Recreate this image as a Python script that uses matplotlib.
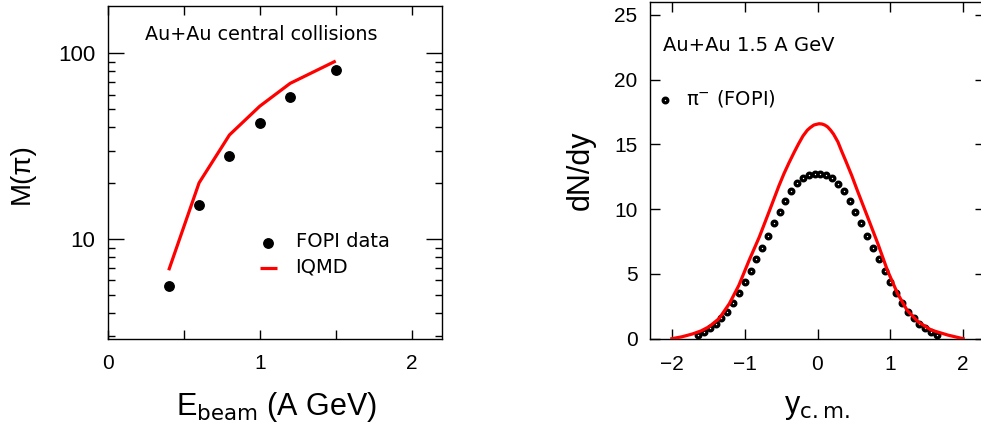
import matplotlib
matplotlib.use("Agg")
import matplotlib.pyplot as plt
from matplotlib import font_manager
from matplotlib.ticker import FixedLocator, NullFormatter, FuncFormatter

# ---------------- data ----------------
energies = [0.4, 0.6, 0.8, 1.0, 1.2, 1.5]
fopi_mult = [5.6, 15.2, 28.2, 42.0, 58.0, 81.0]
iqmd_mult = [6.8, 20.1, 36.4, 52.0, 69.0, 91.0]

rap_data_x = [-1.64, -1.56, -1.48, -1.40, -1.32, -1.24, -1.16, -1.08, -1.00, -0.92,
              -0.84, -0.76, -0.68, -0.60, -0.52, -0.44, -0.36, -0.28, -0.20, -0.12,
              -0.04, 0.04, 0.12, 0.20, 0.28, 0.36, 0.44, 0.52, 0.60, 0.68, 0.76,
              0.84, 0.92, 1.00, 1.08, 1.16, 1.24, 1.32, 1.40, 1.48, 1.56, 1.64]
rap_data_y = [0.30, 0.54, 0.80, 1.13, 1.56, 2.07, 2.77, 3.54, 4.37, 5.25,
              6.12, 7.02, 7.94, 8.91, 9.81, 10.65, 11.41, 12.02, 12.44, 12.65,
              12.75, 12.75, 12.65, 12.44, 11.98, 11.42, 10.65, 9.81, 8.91, 7.94, 7.02,
              6.12, 5.22, 4.35, 3.53, 2.77, 2.07, 1.57, 1.13, 0.80, 0.54, 0.32]

rap_iqmd_x = [-2.0, -1.86, -1.72, -1.60, -1.49, -1.35, -1.21, -1.08, -0.94, -0.80,
              -0.66, -0.53, -0.46, -0.39, -0.32, -0.26, -0.20, -0.14, -0.10, -0.05,
              0.02, 0.06, 0.10, 0.14, 0.18, 0.22, 0.28, 0.33, 0.39, 0.47, 0.55,
              0.69, 0.83, 0.96, 1.10, 1.23, 1.38, 1.56, 1.79, 2.0]
rap_iqmd_y = [0.0, 0.15, 0.36, 0.60, 0.92, 1.56, 2.71, 4.12, 6.04, 7.84,
              9.88, 11.8, 12.75, 13.6, 14.4, 15.05, 15.65, 16.1, 16.3, 16.5,
              16.6, 16.58, 16.5, 16.35, 16.1, 15.8, 15.2, 14.5, 13.7, 12.6, 11.4,
              9.37, 7.32, 5.28, 3.48, 2.2, 1.31, 0.67, 0.28, 0.0]

left_xticks = [0, 1, 2]
left_yticks = [10, 100]
right_xticks = [-2, -1, 0, 1, 2]
right_yticks = [0, 5, 10, 15, 20, 25]

# ---------------- fonts ----------------
_names = {f.name for f in font_manager.fontManager.ttflist}
TICKFONT = "Liberation Sans" if "Liberation Sans" in _names else "DejaVu Sans"
HAS_NARROW = "Liberation Sans Narrow" in _names
NARROW = "Liberation Sans Narrow" if HAS_NARROW else TICKFONT
ANNOT = "DejaVu Sans"

# ---------------- figure ----------------
W, H = 981, 430
fig = plt.figure(figsize=(W / 100, H / 100), dpi=100)

# ---- left panel ----
ax1 = fig.add_axes([108 / W, 1 - 339 / H, 334 / W, 333 / H])
ax1.set_yscale("log")
ax1.plot(energies, iqmd_mult, color="#ff0000", lw=2.3, zorder=3, solid_capstyle="butt")
ax1.plot(energies, fopi_mult, "o", color="black", ms=6.8, zorder=2)
ax1.set_xlim(0, 2.2)
ax1.set_ylim(2.9, 180)

ax1.xaxis.set_major_locator(FixedLocator(left_xticks))
ax1.xaxis.set_minor_locator(FixedLocator([0.5, 1.5]))
ax1.yaxis.set_major_locator(FixedLocator(left_yticks))
ax1.yaxis.set_minor_locator(FixedLocator([3, 4, 5, 6, 7, 8, 9, 20, 30, 40, 50, 60, 70, 80, 90]))
ax1.yaxis.set_minor_formatter(NullFormatter())
ax1.xaxis.set_minor_formatter(NullFormatter())
ax1.yaxis.set_major_formatter(FuncFormatter(lambda v, p: "%d" % v))
ax1.xaxis.set_major_formatter(FuncFormatter(lambda v, p: "%d" % v))
ax1.tick_params(axis="x", which="both", direction="in", top=True, bottom=True,
                length=6.8, width=1.0, pad=11, labelsize=15, labelfontfamily=TICKFONT)
ax1.tick_params(axis="y", which="major", direction="in", left=True, right=True,
                length=11.3, width=1.0, pad=9,
                labelsize=(18.5 if HAS_NARROW else 16), labelfontfamily=NARROW)
ax1.tick_params(axis="y", which="minor", direction="in", left=True, right=True,
                length=5.0, width=1.0)

ax1.set_ylabel("M(π)", fontsize=(23 if HAS_NARROW else 20), family=NARROW,
               va="center")
ax1.yaxis.set_label_coords(-0.257, 0.498)
ax1.set_xlabel(r"E$_{\mathrm{beam}}$ (A GeV)", fontsize=22, family=TICKFONT)
ax1.xaxis.set_label_coords(0.503, -0.228)
ax1.xaxis.label.set_verticalalignment("baseline")

ax1.text(0.111, 0.898, "Au+Au central collisions", transform=ax1.transAxes,
         fontsize=13.8, family=ANNOT, ha="left", va="baseline")
# legend
ax1.plot([0.48], [0.287], "o", color="black", ms=6.8, transform=ax1.transAxes, clip_on=False)
ax1.text(0.563, 0.292, "FOPI data", transform=ax1.transAxes, fontsize=14,
         family=ANNOT, ha="left", va="center")
ax1.plot([0.455, 0.505], [0.214, 0.214], color="#ff0000", lw=2.3,
         transform=ax1.transAxes, solid_capstyle="butt")
ax1.text(0.56, 0.216, "IQMD", transform=ax1.transAxes, fontsize=14,
         family=ANNOT, ha="left", va="center")

# ---- right panel ----
ax2 = fig.add_axes([650 / W, 1 - 338.7 / H, 335 / W, 336.7 / H])
ax2.plot(rap_iqmd_x, rap_iqmd_y, color="#ff0000", lw=2.3, zorder=3)
ax2.plot(rap_data_x, rap_data_y, "o", mfc="white", mec="black", ms=3.4, mew=2.3,
         zorder=2, clip_on=False)
ax2.set_xlim(-2.3, 2.3)
ax2.set_ylim(0, 26)
ax2.xaxis.set_major_locator(FixedLocator(right_xticks))
ax2.yaxis.set_major_locator(FixedLocator(right_yticks))
ax2.xaxis.set_major_formatter(FuncFormatter(lambda v, p: ("%d" % v).replace("-", "\u2212")))
ax2.yaxis.set_major_formatter(FuncFormatter(lambda v, p: "%d" % v))
ax2.tick_params(axis="x", which="major", direction="in", top=True, bottom=True,
                length=7.5, width=1.0, pad=12, labelsize=15, labelfontfamily=TICKFONT)
ax2.tick_params(axis="y", which="major", direction="in", left=True, right=True,
                length=7.2, width=1.0, pad=9, labelsize=15, labelfontfamily=TICKFONT)

ax2.set_ylabel("dN/dy", fontsize=22, family=TICKFONT, va="center")
ax2.yaxis.set_label_coords(-0.206, 0.501)
ax2.set_xlabel(r"y$_{\mathrm{c.m.}}$", fontsize=22, family=TICKFONT)
ax2.xaxis.set_label_coords(0.4975, -0.221)
ax2.xaxis.label.set_verticalalignment("baseline")

ax2.text(0.038, 0.871, "Au+Au 1.5 A GeV", transform=ax2.transAxes, fontsize=14,
         family=ANNOT, ha="left", va="center")
ax2.plot([0.045], [0.709], "o", mfc="white", mec="black", ms=3.4, mew=2.3,
         transform=ax2.transAxes, clip_on=False)
ax2.text(0.107, 0.714, r"π$^{-}$ (FOPI)", transform=ax2.transAxes, fontsize=14,
         family=ANNOT, ha="left", va="center")

for ax in (ax1, ax2):
    for s in ax.spines.values():
        s.set_linewidth(1.0)
        s.set_color("black")

fig.savefig("out.png", dpi=100)
